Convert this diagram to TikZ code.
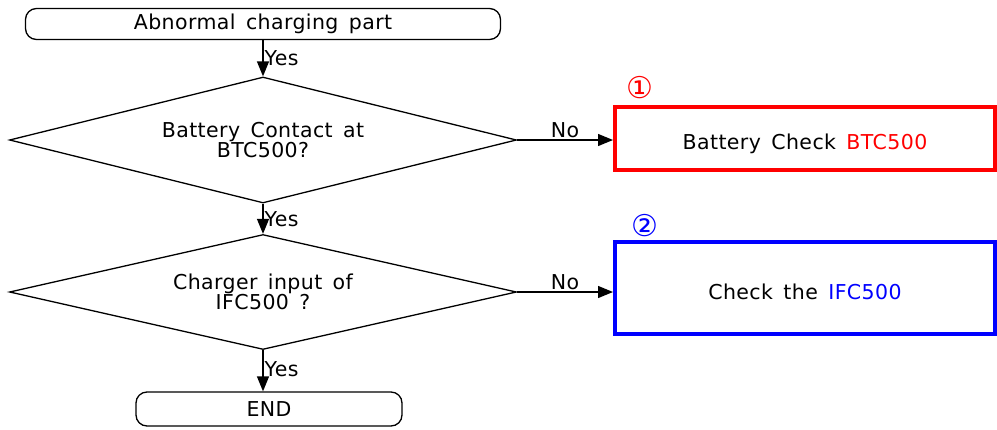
\documentclass[tikz,border=0pt]{standalone}
\usepackage{fontspec}
\setmainfont[WordSpace=1.5,LetterSpace=2]{DejaVu Sans}
\newfontfamily\circfont{DejaVu Sans}
\usetikzlibrary{shapes.geometric,arrows.meta}
\begin{document}
\begin{tikzpicture}[x=1pt, y=1pt, font=\fontsize{20.5}{20.5}\selectfont,
  terminal/.style={draw, line width=1.3pt, rounded corners=11pt, inner sep=0pt},
  decision/.style={draw, diamond, aspect=4, line width=1.3pt, inner sep=0pt, align=center},
  checkbox/.style={draw, line width=4pt, inner sep=0pt, text height=22pt, text depth=0pt},
  flow/.style={line width=1.3pt, -{Triangle[length=15pt,width=12pt]}}]
\useasboundingbox (0,0) rectangle (997,-429);

\node[terminal, minimum width=475pt, minimum height=31pt] (start) at (263,-24) {Abnormal charging part};
\node[decision, minimum width=507pt, minimum height=126pt] (d1) at (263,-140) {Battery Contact at\\BTC500?};
\node[decision, minimum width=507pt, minimum height=115pt] (d2) at (263,-292) {Charger input of\\IFC500 ?};
\node[terminal, minimum width=266pt, minimum height=34pt] (end) at (269,-409) {END};

\node[checkbox, draw=red, minimum width=380pt, minimum height=63pt] (bat) at (805,-138.5) {Battery Check \textcolor{red}{BTC500}};
\node[checkbox, draw=blue, minimum width=380pt, minimum height=92pt] (ifc) at (805,-288) {Check the \textcolor{blue}{IFC500}};
\node[text=red, font=\circfont\fontsize{30}{30}\selectfont] (n1) at (640,-88) {①};
\node[text=blue, font=\circfont\fontsize{30}{30}\selectfont] (n2) at (645,-226) {②};

\draw[flow] (start) -- node[right, pos=0.5, inner sep=1pt] {Yes} (d1);
\draw[flow] (d1) -- node[right, pos=0.5, inner sep=1pt] {Yes} (d2);
\draw[flow] (d2.south) -- node[right, pos=0.45, inner sep=1pt] {Yes} (d2.south |- end.north);
\draw[flow] (d1.east) -- node[above, pos=0.5, inner sep=2pt] {No} (d1.east -| bat.west);
\draw[flow] (d2.east) -- node[above, pos=0.5, inner sep=2pt] {No} (d2.east -| ifc.west);
\end{tikzpicture}
\end{document}
